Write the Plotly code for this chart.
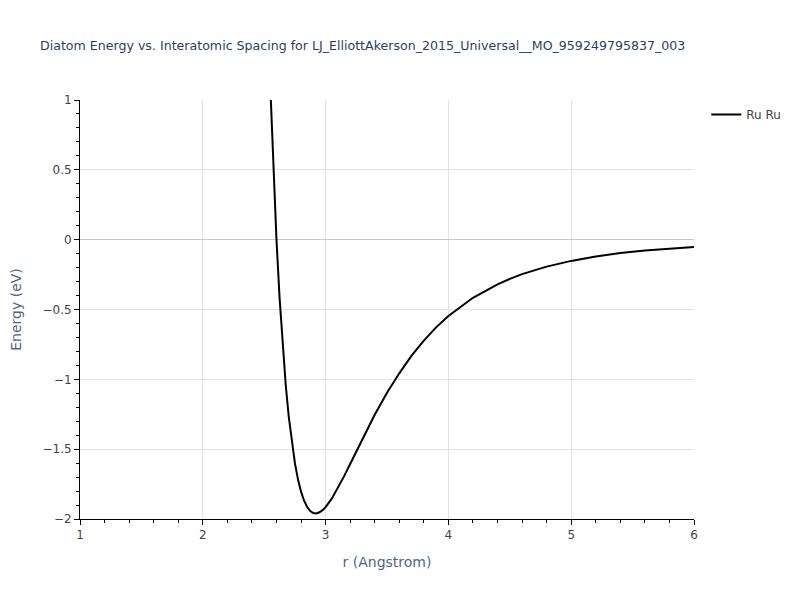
import plotly.graph_objects as go

r_angstrom = [2.55, 2.575, 2.6, 2.625, 2.65, 2.675, 2.7, 2.725, 2.75, 2.775, 2.8,
              2.825, 2.85, 2.875, 2.9, 2.925, 2.95, 2.975, 3.0, 3.05, 3.1, 3.15,
              3.2, 3.25, 3.3, 3.4, 3.5, 3.6, 3.7, 3.8, 3.9, 4.0, 4.2, 4.4, 4.5,
              4.6, 4.8, 5.0, 5.2, 5.4, 5.6, 5.8, 6.0]
energy_ev = [1.09, 0.496, 0.0, -0.413, -0.755, -1.037, -1.268, -1.452, -1.600,
             -1.716, -1.804, -1.869, -1.914, -1.943, -1.957, -1.960, -1.952,
             -1.937, -1.915, -1.854, -1.779, -1.695, -1.606, -1.516, -1.427,
             -1.254, -1.096, -0.957, -0.830, -0.723, -0.628, -0.547, -0.416,
             -0.320, -0.281, -0.247, -0.193, -0.152, -0.121, -0.096, -0.078,
             -0.063, -0.052]
series_name = "Ru Ru"
title_text = "Diatom Energy vs. Interatomic Spacing for LJ_ElliottAkerson_2015_Universal__MO_959249795837_003"

FONT = "Verdana, DejaVu Sans, sans-serif"

fig = go.Figure()
fig.add_trace(go.Scatter(x=r_angstrom, y=energy_ev, mode="lines", name=series_name,
                         showlegend=True, line=dict(color="black", width=2)))

axis_common = dict(
    showline=True, linecolor="black", linewidth=1,
    ticks="outside", tickcolor="black", ticklen=5,
    showgrid=True, gridcolor="#e2e2e2", gridwidth=1,
    zeroline=True, zerolinecolor="#c8c8c8", zerolinewidth=1,
    tickfont=dict(size=12, color="#444", family=FONT),
    title_font=dict(size=14, color="#506784", family=FONT),
    automargin=False,
)

fig.update_xaxes(range=[1, 6], dtick=1, title_text="r (Angstrom)",
                 minor=dict(ticks="outside", dtick=0.2, ticklen=3, tickcolor="black", showgrid=False),
                 **axis_common)
fig.update_yaxes(range=[-2, 1], dtick=0.5, title_text="Energy (eV)", title_standoff=18,
                 minor=dict(ticks="outside", dtick=0.1, ticklen=3, tickcolor="black", showgrid=False),
                 **axis_common)

# page body has an 8px margin, so offsets are compensated here
fig.update_layout(
    width=800, height=600,
    title=dict(text=title_text, font=dict(size=12.6, color="#2a3f5f", family=FONT),
               x=32 / 800, xanchor="left", y=1 - 38 / 600, yanchor="middle"),
    plot_bgcolor="white", paper_bgcolor="white",
    font=dict(family=FONT, color="#444"),
    margin=dict(l=72, r=114, t=92, b=89),
    legend=dict(font=dict(size=12, color="#444", family=FONT)),
)

fig.write_html("out.html")
